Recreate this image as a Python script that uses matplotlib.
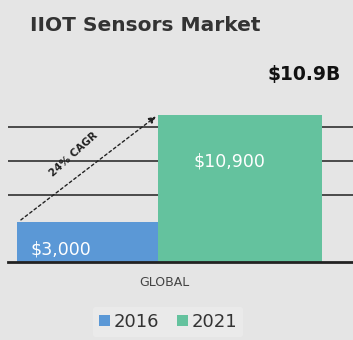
import matplotlib.pyplot as plt

# market size in $M for the one region shown
region = "GLOBAL"
years = ["2016", "2021"]
values = [3000, 10900]
value_labels = ["$3,000", "$10,900"]
total_label = "$10.9B"
cagr_label = "24% CAGR"
colors = ["#5b98d6", "#64c29e"]

fig = plt.figure(figsize=(3.53, 3.40), dpi=100)
fig.patch.set_facecolor("#e5e5e5")
ax = fig.add_axes([0.0227, 0.229, 0.9773, 0.477])
ax.set_facecolor("#e5e5e5")

widths = [0.416, 0.484]
xs = [-widths[0] / 2, widths[1] / 2]
bars = ax.bar(xs, values, width=widths, color=colors, label=years, zorder=3)

ax.set_xlim(-0.4425, 0.575)
ax.set_ylim(0, 12000)
ax.set_yticks([5000, 7500, 10000])
ax.yaxis.grid(True, color="#4a4a4a", linewidth=1.4, zorder=0)
ax.tick_params(left=False, labelleft=False, bottom=False, labelbottom=False)
for side in ["top", "right", "left"]:
    ax.spines[side].set_visible(False)
ax.spines["bottom"].set_color("#222222")
ax.spines["bottom"].set_linewidth(2)
ax.spines["bottom"].set_zorder(4)

# value labels inside the bars
ax.text(-widths[0] + 0.04, values[0] * 0.3, value_labels[0], color="white",
        fontsize=12.5, ha="left", va="center", zorder=5)
ax.text(xs[1] - 0.03, values[1] * 0.68, value_labels[1], color="white",
        fontsize=12.5, ha="center", va="center", zorder=5)

# total above the 2021 bar
ax.text(0.43, 13900, total_label, fontsize=13.5, fontweight="bold",
        ha="center", va="center", color="#111111", clip_on=False)

# growth arrow from 2016 top to 2021 top
ax.annotate("", xy=(0, values[1]), xytext=(-widths[0] + 0.005, values[0]),
            arrowprops=dict(arrowstyle="-|>", linestyle=(0, (2, 2)),
                            color="#222222", lw=1.0, mutation_scale=10),
            zorder=6)
ax.text(-0.25, 8000, cagr_label, fontsize=7.5, fontweight="bold", rotation=42,
        ha="center", va="center", color="#222222", zorder=6)

ax.text(0.02, -1500, region, fontsize=9, ha="center", va="center",
        color="#444444", clip_on=False)

fig.text(0.085, 0.926, "IIOT Sensors Market", fontsize=14.5,
         fontweight="bold", color="#333333", ha="left", va="center")

leg = fig.legend(handles=bars, labels=years, loc="center",
                 bbox_to_anchor=(0.476, 0.053), ncol=2, frameon=True,
                 fontsize=13, handlelength=0.6, handleheight=0.6,
                 handletextpad=0.2, columnspacing=1.0, borderpad=0.35)
leg.get_frame().set_facecolor("#ececec")
leg.get_frame().set_edgecolor("none")
for t in leg.get_texts():
    t.set_color("#333333")

fig.savefig("out.png", dpi=100, facecolor=fig.get_facecolor())
